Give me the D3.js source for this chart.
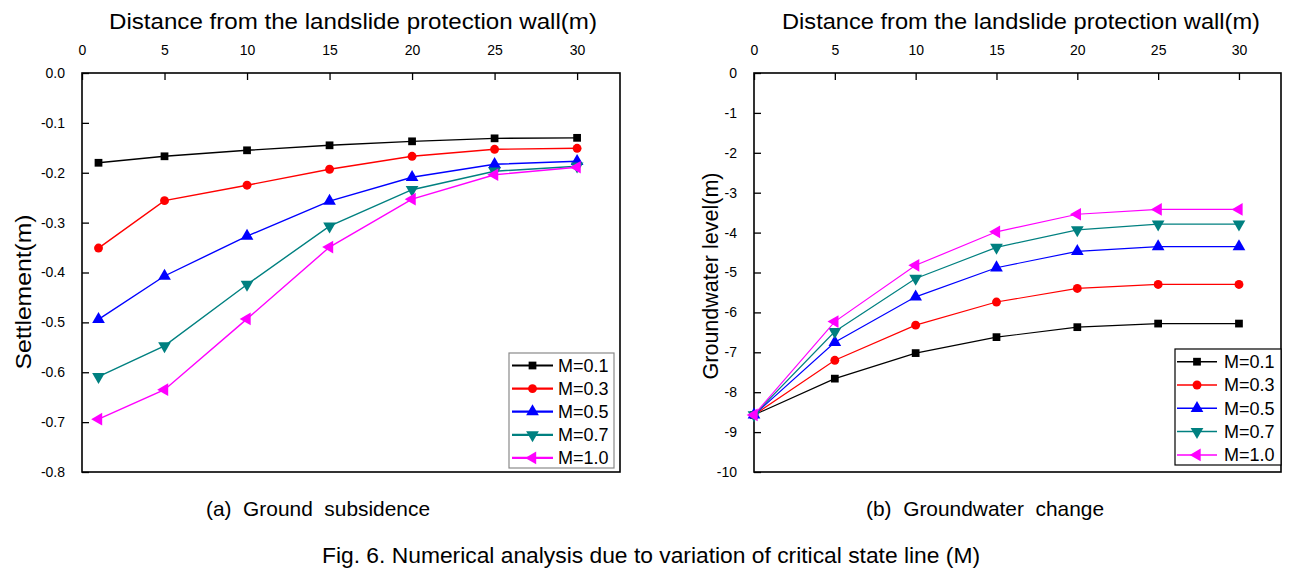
<!DOCTYPE html>
<html><head><meta charset="utf-8">
<script src="https://cdn.jsdelivr.net/npm/d3@7"></script>
<style>body{margin:0;background:#fff}svg{display:block}text{font-family:"Liberation Sans",Arial,sans-serif;fill:#000}</style>
</head><body><svg id="c" width="1312" height="573"></svg>
<script>
// ---- data ----
const seriesNames = ["M=0.1","M=0.3","M=0.5","M=0.7","M=1.0"];
const colors = ["#000000","#ff0000","#0000ff","#008080","#ff00ff"];
const symbolsKind = ["square","circle","up","down","left"];
const xTickValues = [0,5,10,15,20,25,30];

const xSettle = [1,5,10,15,20,25,30];
const settleM01 = [-0.180,-0.167,-0.155,-0.145,-0.137,-0.131,-0.130];
const settleM03 = [-0.351,-0.256,-0.225,-0.193,-0.167,-0.153,-0.151];
const settleM05 = [-0.494,-0.407,-0.327,-0.257,-0.209,-0.183,-0.177];
const settleM07 = [-0.609,-0.547,-0.424,-0.307,-0.234,-0.197,-0.187];
const settleM10 = [-0.694,-0.635,-0.493,-0.349,-0.253,-0.204,-0.189];
const settleTicks = [0,-0.1,-0.2,-0.3,-0.4,-0.5,-0.6,-0.7,-0.8];

const xGw = [0,5,10,15,20,25,30];
const gwM01 = [-8.57,-7.66,-7.02,-6.62,-6.37,-6.28,-6.28];
const gwM03 = [-8.57,-7.20,-6.32,-5.74,-5.40,-5.30,-5.30];
const gwM05 = [-8.57,-6.75,-5.61,-4.88,-4.47,-4.35,-4.35];
const gwM07 = [-8.57,-6.48,-5.15,-4.37,-3.93,-3.79,-3.79];
const gwM10 = [-8.57,-6.23,-4.82,-3.98,-3.54,-3.42,-3.42];
const gwTicks = [0,-1,-2,-3,-4,-5,-6,-7,-8,-9,-10];

const xTitle = "Distance from the landslide protection wall(m)";
const caption = "Fig. 6. Numerical analysis due to variation of critical state line (M)";

const svg = d3.select("#c");
const hy = (f) => (v) => f(v).replace("\u2212","-");

function symPath(kind, size){
  if(kind==="square") return {d:d3.symbol(d3.symbolSquare,size)(), r:0};
  if(kind==="circle") return {d:d3.symbol(d3.symbolCircle,size)(), r:0};
  if(kind==="up") return {d:d3.symbol(d3.symbolTriangle,size)(), r:0};
  if(kind==="down") return {d:d3.symbol(d3.symbolTriangle,size)(), r:180};
  return {d:d3.symbol(d3.symbolTriangle,size)(), r:-90};
}
const symSizes = {square:60, circle:62, up:70, down:70, left:70};

function panel(cfg){
  const g = svg.append("g");
  const x = d3.scaleLinear().domain([0,32.6]).range([cfg.x0,cfg.x1]);
  const y = d3.scaleLinear().domain(cfg.yDomain).range([cfg.y0,cfg.y1]);

  const top = g.append("g").attr("transform",`translate(0,${cfg.y0})`)
    .call(d3.axisTop(x).tickValues(xTickValues).tickSizeInner(-7).tickSizeOuter(0).tickPadding(18).tickFormat(d3.format("d")));
  top.select(".domain").remove();
  top.selectAll("line").attr("stroke","#000").attr("stroke-width",1.3);
  top.selectAll("text").attr("font-size",14).style("font-family",'"Liberation Sans",Arial,sans-serif');

  const left = g.append("g").attr("transform",`translate(${cfg.x0},0)`)
    .call(d3.axisLeft(y).tickValues(cfg.yTicks).tickSizeInner(-7).tickSizeOuter(0).tickPadding(17).tickFormat(hy(cfg.yFmt)));
  left.select(".domain").remove();
  left.selectAll("line").attr("stroke","#000").attr("stroke-width",1.3);
  left.selectAll("text").attr("font-size",14).style("font-family",'"Liberation Sans",Arial,sans-serif');

  g.append("rect").attr("x",cfg.x0).attr("y",cfg.y0).attr("width",cfg.x1-cfg.x0).attr("height",cfg.y1-cfg.y0)
    .attr("fill","none").attr("stroke","#000").attr("stroke-width",1.6);

  const line = d3.line().x((d)=>x(d[0])).y((d)=>y(d[1]));
  cfg.series.forEach((vals,i)=>{
    const pts = cfg.xs.map((xv,j)=>[xv,vals[j]]);
    g.append("path").datum(pts).attr("d",line).attr("fill","none").attr("stroke",colors[i]).attr("stroke-width",cfg.lw);
    const s = symPath(symbolsKind[i], symSizes[symbolsKind[i]]);
    g.selectAll(null).data(pts).enter().append("path")
      .attr("d",s.d).attr("fill",colors[i])
      .attr("transform",(d)=>`translate(${x(d[0])},${y(d[1])}) rotate(${s.r})`);
  });

  const L = cfg.legend;
  g.append("rect").attr("x",L.x0).attr("y",L.y0).attr("width",L.x1-L.x0).attr("height",L.y1-L.y0)
    .attr("fill","#fff").attr("stroke",L.border).attr("stroke-width",1.2);
  seriesNames.forEach((nm,i)=>{
    const yy = L.rowY + i*L.dy;
    g.append("line").attr("x1",L.lx0).attr("x2",L.lx1).attr("y1",yy).attr("y2",yy).attr("stroke",colors[i]).attr("stroke-width",L.lw);
    const s = symPath(symbolsKind[i], symSizes[symbolsKind[i]]);
    g.append("path").attr("d",s.d).attr("fill",colors[i]).attr("transform",`translate(${(L.lx0+L.lx1)/2},${yy}) rotate(${s.r})`);
    g.append("text").attr("x",L.tx).attr("y",yy).attr("dy","0.36em").attr("font-size",18).text(nm);
  });

  g.append("text").attr("x",cfg.titleX).attr("y",29).attr("text-anchor","middle").attr("font-size",22)
    .attr("textLength",cfg.titleW).attr("lengthAdjust","spacingAndGlyphs").text(xTitle);
  g.append("text").attr("transform",`translate(${cfg.ylx},${cfg.yly}) rotate(-90)`).attr("text-anchor","middle")
    .attr("dominant-baseline","central").attr("font-size",22).attr("textLength",cfg.ylW).attr("lengthAdjust","spacingAndGlyphs").text(cfg.yLabel);
  g.append("text").attr("x",cfg.subX).attr("y",516).attr("text-anchor","middle").attr("font-size",21)
    .attr("textLength",cfg.subW).attr("lengthAdjust","spacingAndGlyphs").attr("xml:space","preserve").text(cfg.sub);
}

panel({
  x0:82, x1:620, y0:73, y1:472, yDomain:[0,-0.8], yTicks:settleTicks, yFmt:d3.format(".1f"),
  xs:xSettle, series:[settleM01,settleM03,settleM05,settleM07,settleM10], lw:1.4,
  legend:{x0:509,x1:614,y0:353,y1:468,rowY:365.5,dy:23.1,lx0:512,lx1:553,tx:558,lw:2.2,border:"#8a8a8a"},
  titleX:353, titleW:488, ylx:23, yly:292, ylW:155, yLabel:"Settlement(m)",
  subX:318, subW:224, sub:"(a)  Ground  subsidence"
});
panel({
  x0:754, x1:1281, y0:73, y1:472, yDomain:[0,-10], yTicks:gwTicks, yFmt:d3.format("d"),
  xs:xGw, series:[gwM01,gwM03,gwM05,gwM07,gwM10], lw:1.2,
  legend:{x0:1175,x1:1281,y0:349,y1:465,rowY:361.7,dy:23.3,lx0:1177,lx1:1217,tx:1224,lw:1.5,border:"#000"},
  titleX:1021, titleW:478, ylx:710, yly:276, ylW:207, yLabel:"Groundwater level(m)",
  subX:985, subW:238, sub:"(b)  Groundwater  change"
});

svg.append("text").attr("x",651).attr("y",563).attr("text-anchor","middle").attr("font-size",22)
  .attr("textLength",658).attr("lengthAdjust","spacingAndGlyphs").attr("xml:space","preserve").text(caption);
</script></body></html>
